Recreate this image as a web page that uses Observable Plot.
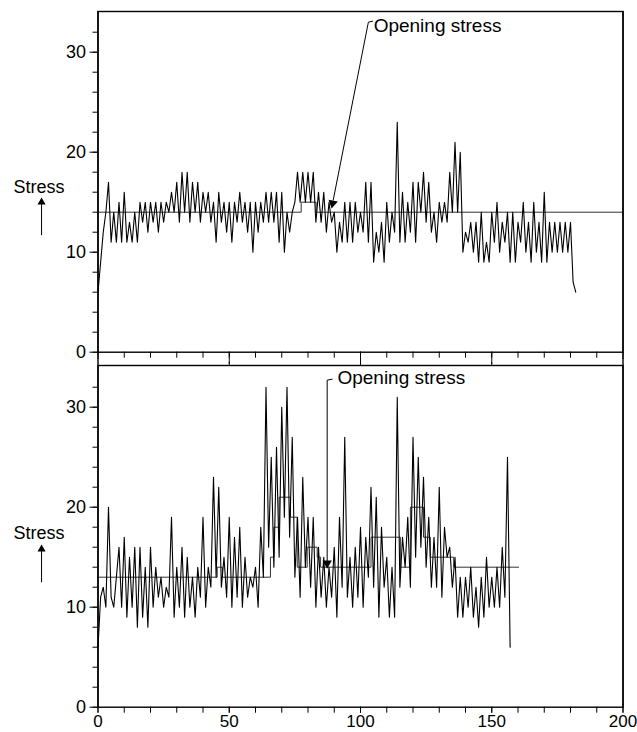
<!DOCTYPE html>
<html><head><meta charset="utf-8">
<script src="https://cdn.jsdelivr.net/npm/d3@7"></script>
<script src="https://cdn.jsdelivr.net/npm/@observablehq/plot@0.6"></script>
<style>body{margin:0;background:#fff} #chart svg{display:block}</style>
</head><body><div id="chart"></div>
<script>
// ---- data (cycle index = array position) ----
const topStress = [6,9,12,14,17,11,14,11,15,11,16,11,13,11,14,11,15,13,15,12,15,13,15,12,15,13,15,14,16,14,17,13,18,14,18,13,17,14,17,13,16,14,16,13,15,11,16,13,15,12,15,11,15,13,16,13,15,12,15,10,15,12,15,13,16,13,16,13,16,11,16,10,14,12,14,15,18,15,18,15,18,15,18,13,16,13,16,12,15,13,14,10,13,11,15,11,15,11,15,12,14,12,17,11,17,9,12,10,13,9,15,11,14,12,23,11,16,11,15,12,17,11,17,14,18,13,17,12,14,11,15,13,15,13,18,14,21,14,20,10,12,11,13,10,13,9,14,9,11,9,14,11,15,10,13,11,14,9,14,9,13,11,15,10,13,9,15,10,13,9,16,9,13,10,13,10,13,10,13,10,13,7,6];
const bottomStress = [6,11,12,10,20,11,10,13,16,10,17,9,15,10,16,8,16,9,14,8,16,10,14,11,13,10,12,11,19,9,14,10,16,9,15,10,13,9,14,11,19,10,14,12,23,13,22,12,15,11,19,10,17,11,18,10,15,11,13,12,14,10,18,13,32,16,25,14,26,15,30,19,32,17,27,13,19,11,23,14,19,12,19,10,16,11,15,10,14,11,16,9,19,12,27,11,15,10,16,11,18,10,17,13,22,12,21,9,18,12,15,9,14,9,31,12,17,14,19,12,27,15,25,16,23,14,19,12,17,12,22,11,18,15,16,12,15,9,13,9,13,10,14,9,12,8,13,9,15,10,13,10,14,10,16,11,25,6];
// opening stress: step start positions and levels
const topOpenX = [0, 77.4, 83.1, 200];
const topOpenY = [14, 15, 14, 14];
const botOpenX = [0, 45.4, 47.4, 65.7, 67, 69, 73.3, 75.9, 79.7, 83.5, 84.8, 104, 115.2, 119, 124, 126.6, 135.5, 160.3];
const botOpenY = [13, 14, 13, 15, 18, 21, 19, 14, 16, 15, 14, 17, 14, 20, 17, 15, 14, 14];
const xLabelTicks = [0, 50, 100, 150, 200];
const yLabelTicks = [0, 10, 20, 30];
const annText = "Opening stress";
const axisText = "Stress";

const font = "'Liberation Sans', Arial, Helvetica, sans-serif";
const xMinor = d3.range(0, 201, 10);
const yMinor = d3.range(0, 34, 2);
const topData = topStress.map((v, i) => ({x: i, y: v}));
const botData = bottomStress.map((v, i) => ({x: i, y: v}));
const topOpen = topOpenX.map((x, i) => ({x, y: topOpenY[i]}));
const botOpen = botOpenX.map((x, i) => ({x, y: botOpenY[i]}));

const common = {
  width: 637,
  marginLeft: 97.5,
  marginRight: 14.5,
  style: {fontFamily: font, fontSize: "18px", color: "#000", background: "#fff", overflow: "visible"},
  x: {domain: [0, 200]}
};

function stressLabel(yText, yFrom, yTo) {
  return [
    Plot.text([axisText], {x: -22.5, y: yText, fontSize: 18, textAnchor: "middle"}),
    Plot.link([{x1: -21.5, y1: yFrom, x2: -21.5, y2: yTo}], {x1: "x1", y1: "y1", x2: "x2", y2: "y2", stroke: "#000", strokeWidth: 1}),
    Plot.dot([{x: -21.5, y: yTo}], {x: "x", y: "y", symbol: "triangle", r: 3, fill: "#000", stroke: "none"})
  ];
}

const topPlot = Plot.plot({
  ...common,
  height: 358,
  marginTop: 11,
  marginBottom: 6.3,
  y: {domain: [0, 34.07]},
  marks: [
    Plot.axisY({ticks: yMinor, tickSize: 5, tickFormat: () => "", label: null}),
    Plot.axisY({ticks: yLabelTicks, tickSize: 8, tickPadding: 4, label: null, fontSize: 18}),
    Plot.axisX({ticks: xMinor, tickSize: 6, tickFormat: () => "", label: null}),
    Plot.axisX({ticks: [50, 100, 150], tickSize: 12, tickFormat: () => "", label: null}),
    Plot.line(topOpen, {x: "x", y: "y", curve: "step-after", stroke: "#333", strokeWidth: 1}),
    Plot.line(topData, {x: "x", y: "y", stroke: "#000", strokeWidth: 1.1}),
    Plot.frame({stroke: "#000", strokeWidth: 1.4}),
    Plot.ruleX([0, 200], {stroke: "#000", strokeWidth: 1.4, insetBottom: -7}),
    ...stressLabel(16.5, 11.7, 15.0),
    Plot.line([{x: 104.6, y: 33.1}, {x: 103.0, y: 33.0}, {x: 89.6, y: 15.2}], {x: "x", y: "y", stroke: "#000", strokeWidth: 1}),
    Plot.dot([{x: 89.4, y: 14.9}], {x: "x", y: "y", symbol: "triangle", r: 3.5, fill: "#000", stroke: "none", rotate: 191}),
    Plot.text([annText], {x: 105, y: 32, fontSize: 19, textAnchor: "start", lineAnchor: "bottom"})
  ]
});

const bottomPlot = Plot.plot({
  ...common,
  height: 374,
  marginTop: 7,
  marginBottom: 25.3,
  y: {domain: [0, 34.17]},
  marks: [
    Plot.axisY({ticks: yMinor, tickSize: 5, tickFormat: () => "", label: null}),
    Plot.axisY({ticks: yLabelTicks, tickSize: 8, tickPadding: 4, label: null, fontSize: 18}),
    Plot.axisX({ticks: xMinor, tickSize: 6, tickFormat: () => "", label: null}),
    Plot.axisX({ticks: xLabelTicks, tickSize: 6, tickPadding: 2, label: null, fontSize: 17}),
    Plot.axisX({anchor: "top", ticks: [50, 100, 150], tickSize: 4, tickFormat: () => "", label: null}),
    Plot.line(botOpen, {x: "x", y: "y", curve: "step-after", stroke: "#333", strokeWidth: 1}),
    Plot.line(botData, {x: "x", y: "y", stroke: "#000", strokeWidth: 1.1}),
    Plot.frame({stroke: "#000", strokeWidth: 1.4}),
    Plot.ruleX([0, 200], {stroke: "#000", strokeWidth: 1.4, insetTop: -7}),
    ...stressLabel(17.4, 12.5, 15.8),
    Plot.line([{x: 89.2, y: 32.8}, {x: 87.3, y: 32.7}, {x: 87.3, y: 14.6}], {x: "x", y: "y", stroke: "#000", strokeWidth: 1}),
    Plot.dot([{x: 87.3, y: 14.4}], {x: "x", y: "y", symbol: "triangle", r: 3.5, fill: "#000", stroke: "none", rotate: 180}),
    Plot.text([annText], {x: 91.2, y: 32.3, fontSize: 19, textAnchor: "start", lineAnchor: "bottom"})
  ]
});

const chart = document.getElementById("chart");
chart.appendChild(topPlot);
chart.appendChild(bottomPlot);
</script>
</body></html>
